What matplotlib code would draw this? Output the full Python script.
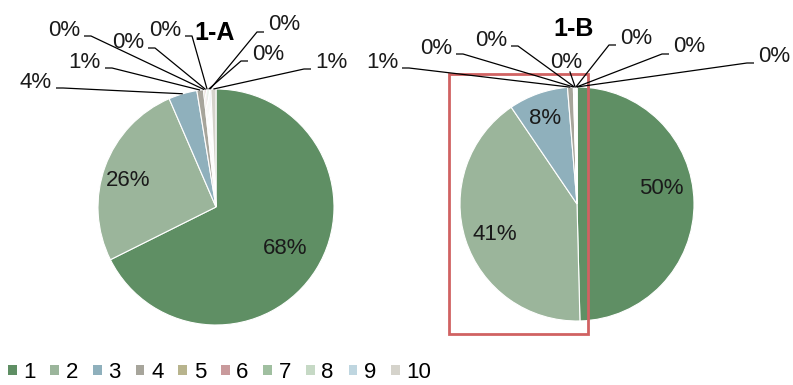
import numpy as np
import matplotlib
matplotlib.use("Agg")
import matplotlib.pyplot as plt
from matplotlib.patches import Patch, Rectangle

plt.rcParams['font.family'] = ['Liberation Sans', 'DejaVu Sans']

# ---- data ----
categories = ['1', '2', '3', '4', '5', '6', '7', '8', '9', '10']
values_a = [67.7, 25.9, 3.9, 0.9, 0.2, 0.2, 0.2, 0.2, 0.2, 0.7]
values_b = [49.6, 40.9, 8.2, 0.8, 0.1, 0.1, 0.1, 0.1, 0.05, 0.05]
titles = ['1-A', '1-B']
colors = ['#5f8f64', '#9bb59b', '#8fb0bc', '#a7a59b', '#b8b48d',
          '#c99a9c', '#a0bfa0', '#c6d9c5', '#bfd6e0', '#d5d3cb']

W, H = 793, 385
fig = plt.figure(figsize=(W / 100, H / 100), dpi=100)
ax = fig.add_axes([0, 0, 1, 1])


def Y(py):
    return H - py


FS = 16
TXT = '#1a1a1a'

# layout: pie centers (px), radius, label anchors
pies = [
    dict(vals=values_a, center=(216, 207), r=118, title_pos=(215, 33),
         inner={0: (285, 249), 1: (128, 180)},
         outer={2: ('r', 52, 82), 3: ('r', 101, 62), 4: ('r', 80, 30),
                5: ('r', 144, 42), 6: ('r', 181, 30), 7: ('l', 252, 54),
                8: ('l', 268, 25), 9: ('l', 315, 62)}),
    dict(vals=values_b, center=(577, 204), r=117, title_pos=(574, 29),
         inner={0: (661, 189), 1: (495, 235), 2: (545, 118)},
         outer={3: ('r', 398, 62), 4: ('r', 452, 48), 5: ('r', 507, 40),
                6: ('c', 566, 62), 7: ('l', 620, 38), 8: ('l', 673, 47),
                9: ('l', 758, 56)}),
]

for p, title in zip(pies, titles):
    vals = np.array(p['vals'], dtype=float)
    cx, cy = p['center']
    r = p['r']
    ax.pie(vals, colors=colors, startangle=90, counterclock=False,
           center=(cx, Y(cy)), radius=r,
           wedgeprops=dict(edgecolor='white', linewidth=0.8))
    frac = vals / vals.sum()
    ends = np.cumsum(frac) * 360
    starts = ends - frac * 360
    mids = (starts + ends) / 2
    labels = [f"{round(f * 100)}%" for f in frac]
    for i, (tx, ty) in p['inner'].items():
        ax.text(tx, Y(ty), labels[i], fontsize=FS, color=TXT,
                ha='center', va='center')
    for i, (side, tx, ty) in p['outer'].items():
        ang = np.deg2rad(90 - mids[i])
        px = cx + r * np.cos(ang)
        py = Y(cy) + r * np.sin(ang)
        if side == 'r':
            ax.text(tx, Y(ty), labels[i], fontsize=FS, color=TXT,
                    ha='right', va='center')
            sx0, sx1 = tx + 4, tx + 11
            sy = Y(ty + 6)
            ax.plot([sx0, sx1, px], [sy, sy, py], color='black', lw=0.9,
                    solid_capstyle='butt')
        elif side == 'l':
            ax.text(tx, Y(ty), labels[i], fontsize=FS, color=TXT,
                    ha='left', va='center')
            sx0, sx1 = tx - 4, tx - 11
            sy = Y(ty + 7)
            ax.plot([sx0, sx1, px], [sy, sy, py], color='black', lw=0.9,
                    solid_capstyle='butt')
        else:
            ax.text(tx, Y(ty), labels[i], fontsize=FS, color=TXT,
                    ha='center', va='center')
            ax.plot([tx + 4, px], [Y(ty + 10), py], color='black', lw=0.9)
    ax.text(p['title_pos'][0], Y(p['title_pos'][1]), title, fontsize=18,
            fontweight='bold', color='black', ha='center', va='center')

# highlight box
ax.add_patch(Rectangle((449, Y(334)), 139, 260, fill=False,
                       edgecolor='#d06262', linewidth=2))

ax.set_xlim(0, W)
ax.set_ylim(0, H)
ax.set_aspect('equal')
ax.axis('off')

handles = [Patch(facecolor=c, edgecolor='none') for c in colors]
fig.legend(handles, categories, loc='lower left', bbox_to_anchor=(-0.01, -0.035),
           ncol=10, frameon=False, fontsize=FS, handlelength=0.4,
           handleheight=0.35, handletextpad=0.3, columnspacing=0.66,
           borderpad=0.2)

fig.savefig('out.png', dpi=100)
